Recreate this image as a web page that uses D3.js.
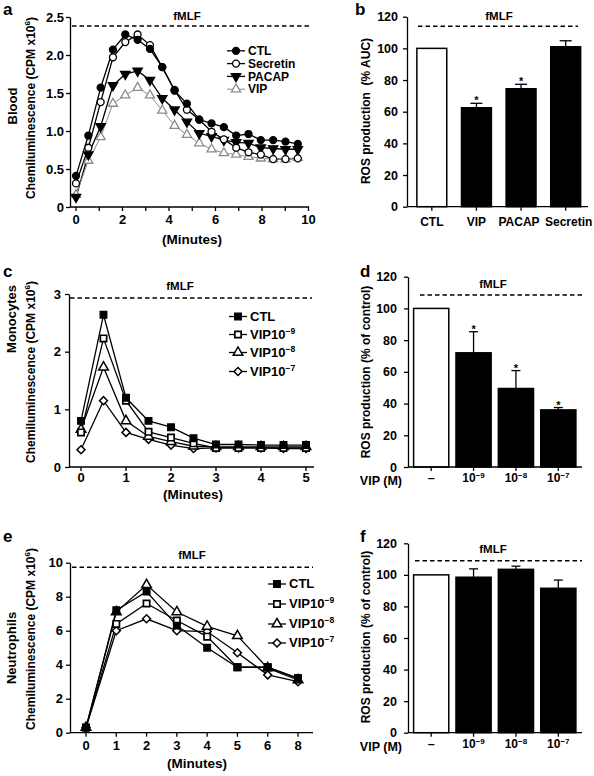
<!DOCTYPE html>
<html><head><meta charset="utf-8">
<script src="https://cdn.jsdelivr.net/npm/d3@7"></script>
<style>body{margin:0;background:#fff}</style>
</head><body><svg id="chart" width="594" height="776"></svg>
<script>
// ---------- DATA ----------
const timeA = [0, 0.53, 1.06, 1.59, 2.12, 2.65, 3.18, 3.71, 4.24, 4.77, 5.30, 5.83, 6.36, 6.89, 7.42, 7.95, 8.48, 9.01, 9.54];
const bloodCTL      = [0.41,0.94,1.57,2.07,2.27,2.20,2.08,1.84,1.53,1.36,1.15,1.10,1.05,0.94,0.96,0.88,0.88,0.86,0.83];
const bloodSecretin = [0.31,0.78,1.38,1.97,2.17,2.27,2.13,1.84,1.54,1.28,1.15,0.99,0.89,0.78,0.72,0.69,0.63,0.63,0.64];
const bloodPACAP    = [0.13,0.69,1.06,1.60,1.75,1.79,1.67,1.43,1.28,1.12,0.97,0.93,0.88,0.85,0.84,0.78,0.77,0.76,0.76];
const bloodVIP      = [0.16,0.61,0.92,1.36,1.47,1.57,1.47,1.27,1.07,0.95,0.84,0.76,0.71,0.69,0.66,0.64,0.63,0.63,0.65];
const bloodFmlf = 2.38;

const bCats = ["CTL","VIP","PACAP","Secretin"];
const bVals = [100, 62.5, 74.5, 101];
const bErr  = [null, 65.3, 77.3, 104.8];
const bSig  = [false, true, true, false];
const bFmlf = 114;

const timeC = [0,0.5,1,1.5,2,2.5,3,3.5,4,4.5,5];
const monoCTL = [0.80,2.64,1.20,0.80,0.69,0.50,0.39,0.39,0.38,0.38,0.38];
const monoVIP9 = [0.60,2.23,1.15,0.61,0.51,0.41,0.33,0.33,0.33,0.33,0.33];
const monoVIP8 = [0.65,1.73,0.80,0.53,0.44,0.36,0.35,0.35,0.35,0.35,0.35];
const monoVIP7 = [0.30,1.15,0.60,0.48,0.38,0.32,0.33,0.33,0.33,0.32,0.32];
const monoFmlf = 2.93;

const doseCats = ["–","-9","-8","-7"];
const dVals = [100, 72, 49.5, 36];
const dErr  = [null, 85.3, 60.8, 37.5];
const dSig  = [false, true, true, true];
const dFmlf = 108.5;

const timeE = ["0","1","2","3","4","5","6","8"];
const neuCTL  = [0.3,7.2,8.3,6.3,5.0,3.85,3.85,3.2];
const neuVIP9 = [0.3,6.4,7.6,6.6,5.65,3.85,3.85,3.2];
const neuVIP8 = [0.3,7.1,8.7,7.1,6.25,5.7,3.8,3.1];
const neuVIP7 = [0.3,6.0,6.7,6.0,5.95,4.7,3.4,3.0];
const neuFmlf = 9.73;

const fVals = [100, 98.5, 103.5, 91.5];
const fErr  = [null, 103.8, 105.5, 96.7];
const fSig  = [false, false, false, false];
const fFmlf = 109;

const barTicks = [0,20,40,60,80,100,120];

// ---------- HELPERS ----------
const FONT = '"Liberation Sans", Arial, Helvetica, sans-serif';
const svg = d3.select("#chart");
svg.append("rect").attr("width",594).attr("height",776).attr("fill","#fff");

function txt(x,y,s,o={}) {
  const t = svg.append("text").attr("x",x).attr("y",y)
    .attr("font-family",FONT).attr("font-weight","bold")
    .attr("font-size",o.size||13).attr("text-anchor",o.anchor||"start")
    .attr("fill","#000").style("white-space","pre");
  if (s !== null) t.text(s);
  if (o.rotate) t.attr("transform",`rotate(-90,${x},${y})`);
  return t;
}
function sup(t, base, s, size, dy) {
  t.append("tspan").text(base);
  t.append("tspan").text(s).attr("font-size",size||9).attr("dy",dy||-5);
}

const ST = {
  circleF: {sym:d3.symbolCircle,size:38,fill:"#000",stroke:"#000"},
  circleO: {sym:d3.symbolCircle,size:38,fill:"#fff",stroke:"#000"},
  triDown: {sym:d3.symbolTriangle,size:38,rot:180,fill:"#000",stroke:"#000"},
  triUpGrey: {sym:d3.symbolTriangle,size:36,fill:"#fff",stroke:"#8c8c8c",line:"#8c8c8c",lw:1},
  squareF: {sym:d3.symbolSquare,size:44,fill:"#000",stroke:"#000"},
  squareO: {sym:d3.symbolSquare,size:40,fill:"#fff",stroke:"#000",sw:1.7},
  triO: {sym:d3.symbolTriangle,size:40,fill:"#fff",stroke:"#000",sw:1.5},
  diamO: {sym:d3.symbolSquare,size:32,rot:45,fill:"#fff",stroke:"#000",sw:1.5}
};

function marker(x,y,st){
  svg.append("path").attr("d", d3.symbol(st.sym, st.size)())
    .attr("transform",`translate(${x},${y}) rotate(${st.rot||0})`)
    .attr("fill",st.fill).attr("stroke",st.stroke).attr("stroke-width",st.sw||1.3);
}

function linesAndMarkers(xs, seriesList, xS, yS) {
  seriesList.forEach(([vals,st]) => {
    const line = d3.line().x((d,i)=>xS(xs[i])).y(d=>yS(d));
    svg.append("path").datum(vals).attr("d",line).attr("fill","none")
      .attr("stroke",st.line||"#000").attr("stroke-width",st.lw||1.3);
  });
  seriesList.slice().reverse().forEach(([vals,st]) => {
    vals.forEach((v,i)=>marker(xS(xs[i]), yS(v), st));
  });
}

function yAxis(yS, x, ticks, fmt, pad, fs) {
  const g = svg.append("g").attr("transform",`translate(${x},0)`)
    .call(d3.axisLeft(yS).tickValues(ticks).tickFormat(fmt).tickSize(4).tickPadding(pad).tickSizeOuter(0));
  g.attr("font-family",FONT).attr("font-size",fs||13).attr("font-weight","bold");
  g.selectAll("path,line").attr("stroke","#000").attr("stroke-width",1.3);
  g.selectAll("text").attr("fill","#000");
}

function xAxisLine(y, x0, x1) {
  svg.append("line").attr("x1",x0).attr("x2",x1).attr("y1",y).attr("y2",y)
    .attr("stroke","#000").attr("stroke-width",1.3);
}
function xTicks(xs, y, len) {
  xs.forEach(x => svg.append("line").attr("x1",x).attr("x2",x).attr("y1",y).attr("y2",y+len)
    .attr("stroke","#000").attr("stroke-width",1.3));
}
function dashed(y, x0, x1) {
  svg.append("line").attr("x1",x0).attr("x2",x1).attr("y1",y).attr("y2",y)
    .attr("stroke","#000").attr("stroke-width",1.5).attr("stroke-dasharray","4.5,3");
}
function legend(x0, ys, items, fs) {
  items.forEach(([label, st, supTxt], i) => {
    const y = ys[i];
    svg.append("line").attr("x1",x0).attr("x2",x0+18).attr("y1",y).attr("y2",y)
      .attr("stroke",st.line||"#000").attr("stroke-width",st.lw||1.3);
    marker(x0+9, y, st);
    const t = txt(x0+21, y+4.2, null, {size:fs});
    if (supTxt) sup(t, label, supTxt, 8.5, -5); else t.text(label);
  });
}

function bars(cats, vals, errs, sig, xS, yS, capW) {
  cats.forEach((c,i) => {
    const x = xS(c), w = xS.bandwidth();
    svg.append("rect").attr("x",x).attr("y",yS(vals[i])).attr("width",w)
      .attr("height",yS(0)-yS(vals[i]))
      .attr("fill", i===0 ? "#fff" : "#000").attr("stroke","#000").attr("stroke-width",1.5);
    if (errs[i] !== null) {
      const cx = x + w/2;
      svg.append("line").attr("x1",cx).attr("x2",cx).attr("y1",yS(vals[i])).attr("y2",yS(errs[i]))
        .attr("stroke","#000").attr("stroke-width",1.3);
      svg.append("line").attr("x1",cx-capW/2).attr("x2",cx+capW/2).attr("y1",yS(errs[i])).attr("y2",yS(errs[i]))
        .attr("stroke","#000").attr("stroke-width",1.3);
      if (sig[i]) txt(cx, yS(errs[i])+1, "*", {size:11, anchor:"middle"});
    }
  });
}

// ---------- PANEL a ----------
const xA = d3.scaleLinear([0,10],[76,308.5]);
const yA = d3.scaleLinear([0,2.5],[207,17]);
yAxis(yA, 70, [0,0.5,1,1.5,2,2.5], d=>d===0?"0":d3.format(".1f")(d), 2, 13);
xAxisLine(207, 70, 309);
xTicks(d3.range(0,11).map(xA), 207, 4);
[0,2,4,6,8,10].forEach(v => txt(xA(v), 224, String(v), {anchor:"middle"}));
linesAndMarkers(timeA, [[bloodCTL,ST.circleF],[bloodSecretin,ST.circleO],[bloodPACAP,ST.triDown],[bloodVIP,ST.triUpGrey]], xA, yA);
dashed(yA(bloodFmlf), 72, 310);
txt(187, 20, "fMLF", {anchor:"middle", size:11.5});
legend(227, [50.8,63.6,76.4,89.2], [["CTL",ST.circleF],["Secretin",ST.circleO],["PACAP",ST.triDown],["VIP",ST.triUpGrey]], 12);
txt(192, 244, "(Minutes)", {anchor:"middle", size:13.5});
txt(17, 106, "Blood", {anchor:"middle", size:13, rotate:true});
{ const t = txt(35, 108, null, {anchor:"middle", size:12, rotate:true}); sup(t, "Chemiluminescence (CPM x10", "6", 8); t.append("tspan").attr("dy",5).text(")"); }
txt(3, 15, "a", {size:17});

// ---------- PANEL b ----------
const yB = d3.scaleLinear([0,120],[206.7,16.7]);
const xB = d3.scaleBand(bCats,[409.5,588]).paddingInner(0.33).paddingOuter(0.165);
bars(bCats, bVals, bErr, bSig, xB, yB, 12);
yAxis(yB, 407, barTicks, d=>String(d), 5, 12.5);
xAxisLine(206.7, 407, 588);
xTicks(bCats.map(c=>xB(c)+xB.bandwidth()/2), 206.7, 4);
const bLabelShift = [0, 0, -2, 3];
bCats.forEach((c,i) => txt(xB(c)+xB.bandwidth()/2 + bLabelShift[i], 226, c, {anchor:"middle", size:12}));
dashed(yB(bFmlf), 418, 578);
txt(499, 20, "fMLF", {anchor:"middle", size:11.5});
txt(370, 111, "ROS production  (% AUC)", {anchor:"middle", size:12, rotate:true});
txt(355, 15, "b", {size:17});

// ---------- PANEL c ----------
const xC = d3.scaleLinear([0,5],[81,306]);
const yC = d3.scaleLinear([0,3],[467,294]);
yAxis(yC, 69, [0,1,2,3], d=>String(d), 4, 13);
xAxisLine(467, 69, 314);
xTicks([0,1,2,3,4,5].map(xC), 467, 4);
[0,1,2,3,4,5].forEach(v => txt(xC(v), 482, String(v), {anchor:"middle"}));
linesAndMarkers(timeC, [[monoCTL,ST.squareF],[monoVIP9,ST.squareO],[monoVIP8,ST.triO],[monoVIP7,ST.diamO]], xC, yC);
dashed(yC(monoFmlf), 70, 312);
txt(180, 290, "fMLF", {anchor:"middle", size:11.5});
legend(229, [316.5,334.5,352.5,371.5], [["CTL",ST.squareF],["VIP10",ST.squareO,"−9"],["VIP10",ST.triO,"−8"],["VIP10",ST.diamO,"−7"]], 13);
txt(193, 499, "(Minutes)", {anchor:"middle", size:13.5});
txt(16, 319, "Monocytes", {anchor:"middle", size:13, rotate:true});
{ const t = txt(35, 372, null, {anchor:"middle", size:12, rotate:true}); sup(t, "Chemiluminescence (CPM x10", "6", 8); t.append("tspan").attr("dy",5).text(")"); }
txt(3, 277, "c", {size:17});

// ---------- PANEL d ----------
function doseLabels(xS, y) {
  doseCats.forEach(c => {
    const cx = xS(c)+xS.bandwidth()/2;
    if (c === "–") txt(cx, y, "–", {anchor:"middle", size:12.5});
    else { const t = txt(cx, y, null, {anchor:"middle", size:12}); sup(t, "10", c.replace("-","−"), 8, -4); }
  });
}
const yD = d3.scaleLinear([0,120],[467,276.7]);
const xD = d3.scaleBand(doseCats,[410,579.5]).paddingInner(0.17).paddingOuter(0.085);
bars(doseCats, dVals, dErr, dSig, xD, yD, 9);
yAxis(yD, 408, barTicks, d=>String(d), 7, 12.5);
xAxisLine(467, 408, 582);
xTicks(doseCats.map(c=>xD(c)+xD.bandwidth()/2), 467, 4);
doseLabels(xD, 482);
txt(402, 485, "VIP (M)", {anchor:"end", size:12.5});
dashed(yD(dFmlf), 420, 582);
txt(493, 288, "fMLF", {anchor:"middle", size:11.5});
txt(370, 372, "ROS production (% of control)", {anchor:"middle", size:12, rotate:true});
txt(360, 277, "d", {size:17});

// ---------- PANEL e ----------
const xE = d3.scalePoint(timeE,[86,298]);
const yE = d3.scaleLinear([0,10],[732.7,562.7]);
yAxis(yE, 70, [0,2,4,6,8,10], d=>String(d), 3, 13);
xAxisLine(732.7, 70, 313);
xTicks(timeE.map(xE), 732.7, 4);
timeE.forEach(v => txt(xE(v), 750, v, {anchor:"middle"}));
linesAndMarkers(timeE, [[neuCTL,ST.squareF],[neuVIP9,ST.squareO],[neuVIP8,ST.triO],[neuVIP7,ST.diamO]], xE, yE);
dashed(yE(neuFmlf), 72, 313);
txt(192, 559, "fMLF", {anchor:"middle", size:11.5});
legend(268, [584,604,624,643], [["CTL",ST.squareF],["VIP10",ST.squareO,"−9"],["VIP10",ST.triO,"−8"],["VIP10",ST.diamO,"−7"]], 13);
txt(197, 768, "(Minutes)", {anchor:"middle", size:13.5});
txt(16, 648, "Neutrophils", {anchor:"middle", size:13, rotate:true});
{ const t = txt(35, 639, null, {anchor:"middle", size:12, rotate:true}); sup(t, "Chemiluminescence (CPM x10", "6", 8); t.append("tspan").attr("dy",5).text(")"); }
txt(3, 542, "e", {size:17});

// ---------- PANEL f ----------
const yF = d3.scaleLinear([0,120],[732.7,543.3]);
const xF = d3.scaleBand(doseCats,[410,579.5]).paddingInner(0.17).paddingOuter(0.085);
bars(doseCats, fVals, fErr, fSig, xF, yF, 9);
yAxis(yF, 408, barTicks, d=>String(d), 7, 12.5);
xAxisLine(732.7, 408, 582);
xTicks(doseCats.map(c=>xF(c)+xF.bandwidth()/2), 732.7, 4);
doseLabels(xF, 748);
txt(402, 751, "VIP (M)", {anchor:"end", size:12.5});
dashed(yF(fFmlf), 415, 582);
txt(493, 553, "fMLF", {anchor:"middle", size:11.5});
txt(370, 637, "ROS production (% of control)", {anchor:"middle", size:12, rotate:true});
txt(360, 542, "f", {size:17});
</script></body></html>
